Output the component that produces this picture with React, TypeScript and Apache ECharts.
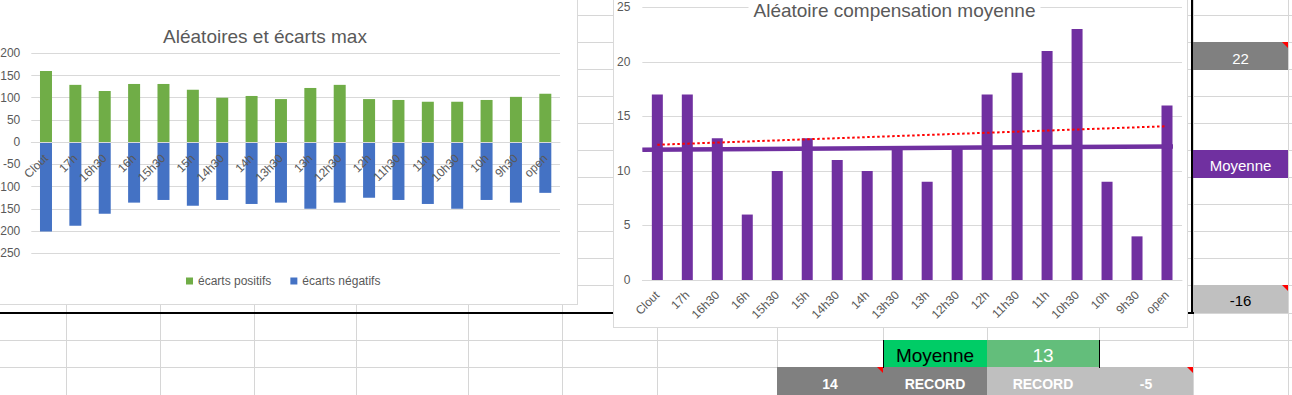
import React, { useEffect, useRef } from "react";
import * as echarts from "echarts";

const FONT = '"Liberation Sans", Arial, sans-serif';
const TXT = "#595959";
const GRID = "#D9D9D9";

const categories = ["Clout", "17h", "16h30", "16h", "15h30", "15h", "14h30", "14h", "13h30", "13h", "12h30", "12h", "11h30", "11h", "10h30", "10h", "9h30", "open"];
const positiveGaps = [160, 129, 115, 131, 131, 118, 100, 104, 97, 122, 129, 97, 95, 91, 91, 95, 102, 109];
const negativeGaps = [-201, -188, -161, -136, -130, -143, -130, -139, -136, -150, -136, -125, -130, -139, -150, -130, -136, -114];
const compensation = [17, 17, 13, 6, 10, 13, 11, 10, 12, 9, 12, 17, 19, 21, 23, 9, 4, 16];
const trendEnds = [12.4, 14.1];
const averageEnds = [11.95, 12.25];
const legendNames = ["écarts positifs", "écarts négatifs"];
const title1 = "Aléatoires et écarts max";
const title2 = "Aléatoire compensation moyenne";
const gapAxisRange = [-250, 200];

const sideValues = ["22", "Moyenne", "-16"];
const meanRow = ["Moyenne", "13"];
const recordRow = ["14", "RECORD", "RECORD", "-5"];

const rowLines = [15, 42, 69, 96, 123, 150, 177, 204, 231, 258, 285, 313, 340, 367];
const colLines = [66, 160, 254, 356, 468, 562, 657, 777, 883, 987, 1099, 1193, 1288];

const GRID1 = { left: 50.3, right: 17, top: 62.3, bottom: 50.7 };
const H1 = 313;

function option1() {
  const plotH = H1 - GRID1.top - GRID1.bottom;
  const zeroFromBottom = (plotH * (0 - gapAxisRange[0])) / (gapAxisRange[1] - gapAxisRange[0]);
  return {
    animation: false,
    textStyle: { fontFamily: FONT },
    graphic: [
      {
        type: "text",
        x: 284,
        y: 45.7,
        style: { text: title1, fill: TXT, fontSize: 19, fontFamily: FONT, align: "center", verticalAlign: "middle" },
      },
    ],
    legend: {
      data: legendNames,
      left: 205,
      top: 284,
      padding: 0,
      itemWidth: 7,
      itemHeight: 7,
      itemGap: 19,
      icon: "rect",
      textStyle: { color: TXT, fontSize: 12, fontFamily: FONT },
    },
    grid: GRID1,
    xAxis: {
      type: "category",
      data: categories,
      position: "bottom",
      offset: -zeroFromBottom,
      z: 10,
      axisLine: { onZero: false, lineStyle: { color: GRID } },
      axisTick: { show: false },
      axisLabel: { rotate: 45, margin: 14, interval: 0, color: TXT, fontSize: 12, fontFamily: FONT },
    },
    yAxis: {
      type: "value",
      min: gapAxisRange[0],
      max: gapAxisRange[1],
      interval: 50,
      axisLine: { show: false },
      axisTick: { show: false },
      axisLabel: { color: TXT, fontSize: 12, fontFamily: FONT, margin: 11 },
      splitLine: { lineStyle: { color: GRID } },
    },
    series: [
      { name: legendNames[0], type: "bar", stack: "g", data: positiveGaps, barWidth: 12, itemStyle: { color: "#70AD47" } },
      { name: legendNames[1], type: "bar", stack: "g", data: negativeGaps, barWidth: 12, itemStyle: { color: "#4472C4" } },
    ],
  };
}

function option2() {
  const last = categories.length - 1;
  return {
    animation: false,
    textStyle: { fontFamily: FONT },
    graphic: [
      {
        type: "text",
        x: 280.5,
        y: 39.4,
        z: 100,
        style: {
          text: title2,
          fill: TXT,
          fontSize: 19,
          fontFamily: FONT,
          align: "center",
          verticalAlign: "middle",
          backgroundColor: "#FFFFFF",
          padding: [0, 5],
        },
      },
    ],
    grid: { left: 27.3, right: 5, top: 36.3, bottom: 47 },
    xAxis: [
      {
        type: "category",
        data: categories,
        axisLine: { lineStyle: { color: GRID } },
        axisTick: { show: false },
        axisLabel: { rotate: 45, margin: 13, interval: 0, color: TXT, fontSize: 12, fontFamily: FONT },
      },
      { type: "value", min: 0, max: categories.length, show: false },
    ],
    yAxis: {
      type: "value",
      min: 0,
      max: 25,
      interval: 5,
      axisLine: { show: false },
      axisTick: { show: false },
      axisLabel: { color: TXT, fontSize: 12, fontFamily: FONT, margin: 12 },
      splitLine: { lineStyle: { color: GRID } },
    },
    series: [
      { type: "bar", data: compensation, barWidth: 11, itemStyle: { color: "#7030A0" } },
      {
        type: "line",
        xAxisIndex: 1,
        data: [
          [0, averageEnds[0]],
          [categories.length - 0.3, averageEnds[1]],
        ],
        symbol: "none",
        lineStyle: { width: 4.5, color: "#7030A0" },
        z: 4,
      },
      {
        type: "line",
        data: [
          [categories[0], trendEnds[0]],
          [categories[last], trendEnds[1]],
        ],
        symbol: "none",
        lineStyle: { width: 2, color: "#FF0000", type: [2.5, 2.5] },
        z: 5,
      },
    ],
  };
}

function Tri({ x1, y0 }: { x1: number; y0: number }) {
  return <polygon points={`${x1 - 6},${y0} ${x1},${y0} ${x1},${y0 + 6}`} fill="#FF0000" />;
}

export default function App() {
  const ref1 = useRef<HTMLDivElement>(null);
  const ref2 = useRef<HTMLDivElement>(null);
  useEffect(() => {
    const c1 = echarts.init(ref1.current!, undefined, { renderer: "svg" });
    c1.setOption(option1() as any);
    const c2 = echarts.init(ref2.current!, undefined, { renderer: "svg" });
    c2.setOption(option2() as any);
    return () => {
      c1.dispose();
      c2.dispose();
    };
  }, []);

  const cellText = (x: number, y: number, t: string, size: number, fill: string, bold = false) => (
    <text x={x} y={y} textAnchor="middle" fontFamily={FONT} fontSize={size} fill={fill} fontWeight={bold ? "bold" : "normal"}>
      {t}
    </text>
  );

  return (
    <div style={{ position: "fixed", left: 0, top: 0, width: 1292, height: 395, background: "#fff", overflow: "hidden" }}>
      <svg width={1292} height={395} style={{ position: "absolute", left: 0, top: 0 }}>
        {rowLines.map((y) => (
          <line key={"r" + y} x1={0} x2={1292} y1={y + 0.5} y2={y + 0.5} stroke="#D6D6D6" strokeWidth={1} />
        ))}
        {colLines.map((x) => (
          <line key={"c" + x} x1={x + 0.5} x2={x + 0.5} y1={0} y2={395} stroke="#D6D6D6" strokeWidth={1} />
        ))}
        <rect x={1193} y={42} width={95} height={28} fill="#808080" />
        <rect x={1193} y={150} width={95} height={28} fill="#7030A0" />
        <rect x={1193} y={285} width={95} height={28} fill="#C0C0C0" />
        <rect x={883} y={340} width={104} height={28} fill="#00CC66" />
        <rect x={987} y={340} width={112} height={28} fill="#63BE7B" />
        <rect x={777} y={367} width={210} height={28} fill="#808080" />
        <rect x={987} y={367} width={206} height={28} fill="#BFBFBF" />
        <rect x={0} y={312} width={1194} height={2} fill="#000" />
        <rect x={1191} y={0} width={2} height={314} fill="#000" />
        <rect x={883} y={340} width={1} height={28} fill="#000" />
        <rect x={1099} y={340} width={1} height={28} fill="#000" />
        <Tri x1={1288} y0={42} />
        <Tri x1={1288} y0={285} />
        <Tri x1={883} y0={367} />
        <Tri x1={1193} y0={367} />
        {cellText(1240.5, 64, sideValues[0], 15, "#FFFFFF")}
        {cellText(1240.5, 171, sideValues[1], 15, "#FFFFFF")}
        {cellText(1240.5, 306, sideValues[2], 15, "#000000")}
        {cellText(935, 361.5, meanRow[0], 19, "#000000")}
        {cellText(1043, 361.5, meanRow[1], 19, "#FFFFFF")}
        {cellText(830, 388.5, recordRow[0], 14, "#FFFFFF", true)}
        {cellText(935, 388.5, recordRow[1], 14, "#FFFFFF", true)}
        {cellText(1043, 388.5, recordRow[2], 14, "#FFFFFF", true)}
        {cellText(1146, 388.5, recordRow[3], 14, "#FFFFFF", true)}
      </svg>
      <div
        style={{ position: "absolute", left: -20, top: -10, width: 598, height: 315, boxSizing: "border-box", border: "1px solid #D9D9D9", background: "#fff" }}
      >
        <div ref={ref1} style={{ width: 596, height: H1 }} />
      </div>
      <div
        style={{ position: "absolute", left: 613, top: -30, width: 575, height: 358, boxSizing: "border-box", border: "1px solid #D9D9D9", background: "#fff" }}
      >
        <div ref={ref2} style={{ width: 573, height: 356 }} />
      </div>
    </div>
  );
}
